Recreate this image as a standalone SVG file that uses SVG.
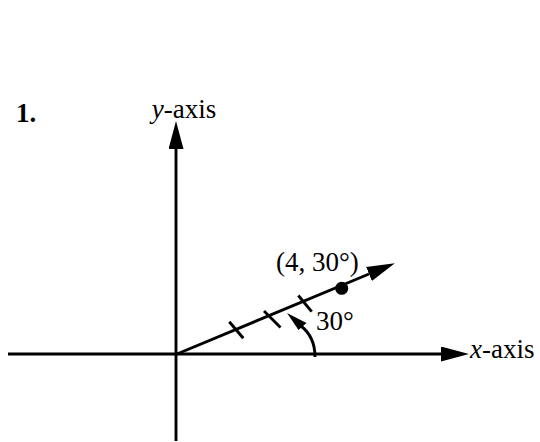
<svg xmlns="http://www.w3.org/2000/svg" width="540" height="442" viewBox="0 0 540 442">
<style>
.ln{stroke:#000;stroke-width:2.9;fill:none}
.t{font-family:"Liberation Serif","Times New Roman",serif;font-size:27px;fill:#000}
</style>
<defs>
<marker id="ah" markerUnits="userSpaceOnUse" markerWidth="30" markerHeight="16" refX="0" refY="7.5" orient="auto">
<path d="M0,0 L28,7.5 L0,15 z" fill="#000"/>
</marker>
</defs>
<rect width="540" height="442" fill="#fff"/>
<g id="connectors">
<line id="x-axis-line" class="ln" x1="8" y1="354" x2="441" y2="354" marker-end="url(#ah)"/>
<line id="y-axis-line" class="ln" x1="176" y1="441" x2="176" y2="149" marker-end="url(#ah)"/>
<line id="ray" class="ln" x1="177" y1="354" x2="369" y2="274" marker-end="url(#ah)"/>
<line class="ln" x1="229.3" y1="321.7" x2="243.3" y2="338.3"/>
<line class="ln" x1="264" y1="311" x2="280.5" y2="327.5"/>
<line class="ln" x1="298.3" y1="295.5" x2="311.7" y2="311.7"/>
<path id="angle-arc" class="ln" d="M315,357 C315,343 310,333 301,326"/>
<polygon points="287,313 298.5,330 306.5,323" fill="#000"/>
</g>
<g id="point">
<circle cx="341.7" cy="288.3" r="6.5" fill="#000"/>
</g>
<g id="labels">
<text class="t" x="16" y="121.5" font-weight="bold">1.</text>
<text class="t" x="151.7" y="118"><tspan font-style="italic">y</tspan>-axis</text>
<text class="t" x="470" y="358"><tspan font-style="italic">x</tspan>-axis</text>
<text class="t" x="276" y="271">(4, 30°)</text>
<text class="t" x="316" y="330">30°</text>
</g>
</svg>
